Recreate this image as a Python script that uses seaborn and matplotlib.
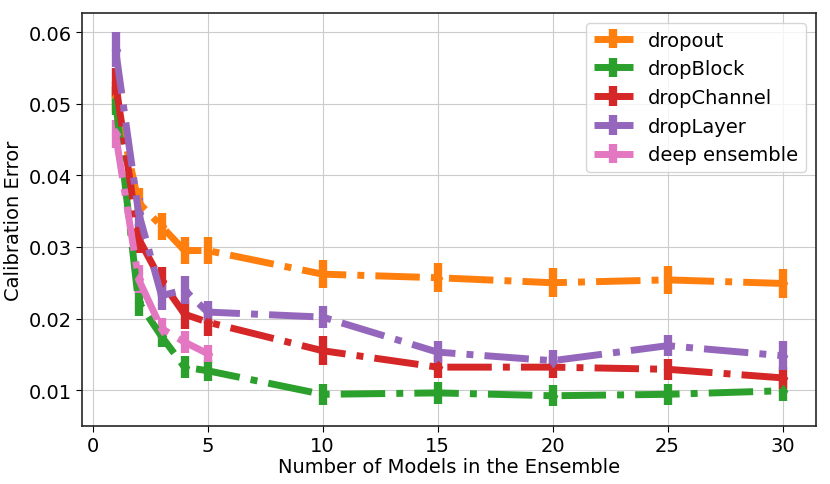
import numpy as np
import matplotlib
matplotlib.use("Agg")
import matplotlib.pyplot as plt
import seaborn as sns

# Data
n_models = [1, 2, 3, 4, 5, 10, 15, 20, 25, 30]
n_models_de = [1, 2, 3, 4, 5]

dropout = [0.0510, 0.0362, 0.0329, 0.0295, 0.0295, 0.0262, 0.0257, 0.0250, 0.0254, 0.0249]
dropblock = [0.0505, 0.0223, 0.0175, 0.0132, 0.0127, 0.0094, 0.0096, 0.0092, 0.0094, 0.0099]
dropchannel = [0.0530, 0.0312, 0.0252, 0.0206, 0.0195, 0.0155, 0.0132, 0.0132, 0.0129, 0.0117]
droplayer = [0.0576, 0.0348, 0.0232, 0.0240, 0.0209, 0.0202, 0.0153, 0.0141, 0.0162, 0.0148]
deep_ens = [0.0458, 0.0255, 0.0186, 0.0167, 0.0151]

err_dropout = [0.0020, 0.0020, 0.0019, 0.0019, 0.0019, 0.0020, 0.0020, 0.0020, 0.0020, 0.0020]
err_dropblock = [0.0020, 0.0020, 0.0015, 0.0015, 0.0015, 0.0015, 0.0015, 0.0015, 0.0015, 0.0015]
err_dropchannel = [0.0020, 0.0020, 0.0020, 0.0020, 0.0020, 0.0020, 0.0015, 0.0015, 0.0015, 0.0015]
err_droplayer = [0.0024, 0.0020, 0.0020, 0.0020, 0.0015, 0.0015, 0.0015, 0.0015, 0.0015, 0.0020]
err_deep_ens = [0.0020, 0.0020, 0.0015, 0.0015, 0.0012]

series = [
    ("dropout", n_models, dropout, err_dropout, "C1"),
    ("dropBlock", n_models, dropblock, err_dropblock, "C2"),
    ("dropChannel", n_models, dropchannel, err_dropchannel, "C3"),
    ("dropLayer", n_models, droplayer, err_droplayer, "C4"),
    ("deep ensemble", n_models_de, deep_ens, err_deep_ens, "C6"),
]

sns.set_style("whitegrid")
plt.rcParams["font.family"] = ["DejaVu Sans"]
plt.rcParams["axes.edgecolor"] = "0.15"
plt.rcParams["grid.color"] = "0.8"
plt.rcParams["text.color"] = "black"
plt.rcParams["axes.labelcolor"] = "black"
plt.rcParams["xtick.color"] = "black"
plt.rcParams["ytick.color"] = "black"

fig = plt.figure(figsize=(8.3, 4.85), dpi=100)
ax = fig.add_axes([0.099, 0.12, 0.884, 0.851])

for name, xs, ys, es, col in series:
    ax.errorbar(xs, ys, yerr=es, fmt="-.", marker="d", markersize=6,
                lw=5, elinewidth=6, capsize=0, color=col, label=name)

ax.set_ylim(0.005, 0.0627)
ax.set_xticks([0, 5, 10, 15, 20, 25, 30])
ax.set_yticks([0.01, 0.02, 0.03, 0.04, 0.05, 0.06])
ax.tick_params(labelsize=14, length=4, left=True, bottom=True)
ax.set_xlabel("Number of Models in the Ensemble", fontsize=14, labelpad=1)
ax.set_ylabel("Calibration Error", fontsize=14)
for s in ax.spines.values():
    s.set_linewidth(1.2)

ax.legend(loc="upper right", fontsize=14, frameon=True, handlelength=2.0)

fig.savefig("out.png", dpi=100)
